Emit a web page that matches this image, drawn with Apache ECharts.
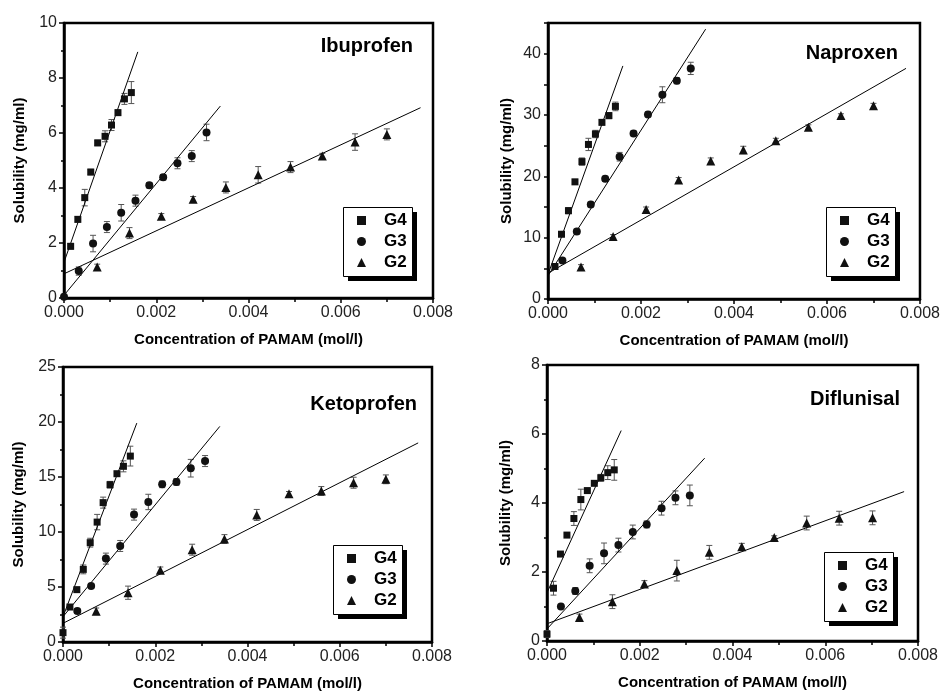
<!DOCTYPE html>
<html><head><meta charset="utf-8">
<script src="https://cdn.jsdelivr.net/npm/echarts@6/dist/echarts.min.js"></script>
<style>html,body{margin:0;padding:0;background:#fff}#c{width:943px;height:692px}</style>
</head><body><div id="c"></div>
<script>
// ---------- DATA ----------
// Ibuprofen
const ibuG4x = [0.000144, 0.0003, 0.00045, 0.00058, 0.00073, 0.00089, 0.00103, 0.00117, 0.00131, 0.00146];
const ibuG4y = [1.88, 2.86, 3.65, 4.58, 5.64, 5.88, 6.29, 6.74, 7.24, 7.47];
const ibuG4e = [0.1, 0.1, 0.3, 0.1, 0.1, 0.2, 0.2, 0.1, 0.2, 0.4];
const ibuG3x = [0, 0.00032, 0.00063, 0.00093, 0.00124, 0.00155, 0.00185, 0.00215, 0.00246, 0.00277, 0.00309];
const ibuG3y = [0.05, 0.98, 1.98, 2.58, 3.10, 3.54, 4.10, 4.39, 4.90, 5.16, 6.02];
const ibuG3e = [0.05, 0.15, 0.3, 0.2, 0.3, 0.2, 0.1, 0.1, 0.2, 0.2, 0.3];
const ibuG2x = [0.00072, 0.00142, 0.00211, 0.0028, 0.00351, 0.00421, 0.00491, 0.0056, 0.00631, 0.007];
const ibuG2y = [1.13, 2.36, 2.97, 3.59, 4.02, 4.48, 4.76, 5.16, 5.67, 5.95];
const ibuG2e = [0.1, 0.2, 0.1, 0.1, 0.2, 0.3, 0.2, 0.1, 0.3, 0.2];
const ibuFitG4 = [[0, 1.3], [0.0016, 8.95]];
const ibuFitG3 = [[0, 0.1], [0.00339, 6.98]];
const ibuFitG2 = [[0, 0.88], [0.00773, 6.92]];

// Naproxen
const napG4x = [0.00015, 0.00029, 0.00044, 0.00058, 0.00073, 0.00087, 0.00102, 0.00116, 0.00131, 0.00145];
const napG4y = [5.3, 10.56, 14.4, 19.1, 22.4, 25.2, 26.9, 28.8, 29.9, 31.4];
const napG4e = [0.4, 0.4, 0.5, 0.4, 0.6, 1.0, 0.6, 0.4, 0.5, 0.7];
const napG3x = [0.00031, 0.00062, 0.00092, 0.00123, 0.00154, 0.00184, 0.00215, 0.00246, 0.00277, 0.00307];
const napG3y = [6.26, 11.0, 15.4, 19.6, 23.2, 27.0, 30.1, 33.3, 35.6, 37.6];
const napG3e = [0.3, 0.4, 0.4, 0.4, 0.7, 0.4, 0.4, 1.3, 0.5, 1.0];
const napG2x = [0.00071, 0.0014, 0.00211, 0.00281, 0.0035, 0.0042, 0.0049, 0.0056, 0.0063, 0.007];
const napG2y = [5.2, 10.2, 14.6, 19.4, 22.5, 24.3, 25.8, 28.0, 29.9, 31.5];
const napG2e = [0.4, 0.3, 0.4, 0.4, 0.5, 0.6, 0.4, 0.4, 0.3, 0.4];
const napFitG4 = [[0, 4.0], [0.00161, 38.0]];
const napFitG3 = [[0, 3.8], [0.00339, 44.0]];
const napFitG2 = [[0, 4.2], [0.0077, 37.6]];

// Ketoprofen
const ketG4x = [0, 0.00015, 0.0003, 0.00044, 0.00059, 0.00074, 0.00087, 0.00102, 0.00117, 0.00131, 0.00146];
const ketG4y = [0.85, 3.18, 4.76, 6.6, 9.03, 10.9, 12.67, 14.3, 15.3, 15.97, 16.9];
const ketG4e = [0.5, 0.2, 0.2, 0.4, 0.4, 0.7, 0.5, 0.3, 0.2, 0.5, 0.9];
const ketG3x = [0.00031, 0.00061, 0.00093, 0.00124, 0.00154, 0.00185, 0.00215, 0.00246, 0.00277, 0.00308];
const ketG3y = [2.82, 5.09, 7.58, 8.73, 11.58, 12.73, 14.33, 14.55, 15.8, 16.45];
const ketG3e = [0.2, 0.2, 0.5, 0.5, 0.5, 0.7, 0.3, 0.3, 0.8, 0.5];
const ketG2x = [0.00072, 0.00141, 0.00211, 0.0028, 0.0035, 0.0042, 0.0049, 0.0056, 0.0063, 0.007];
const ketG2y = [2.79, 4.48, 6.52, 8.39, 9.36, 11.55, 13.48, 13.73, 14.48, 14.79];
const ketG2e = [0.3, 0.6, 0.3, 0.5, 0.4, 0.5, 0.2, 0.4, 0.5, 0.4];
const ketFitG4 = [[0, 2.3], [0.0016, 19.9]];
const ketFitG3 = [[0, 2.3], [0.0034, 19.6]];
const ketFitG2 = [[0, 1.7], [0.0077, 18.1]];

// Diflunisal
const difG4x = [0, 0.00014, 0.00029, 0.00043, 0.00058, 0.00073, 0.00087, 0.00102, 0.00116, 0.00131, 0.00145];
const difG4y = [0.2, 1.53, 2.52, 3.07, 3.55, 4.1, 4.36, 4.57, 4.73, 4.88, 4.96];
const difG4e = [0.1, 0.2, 0.05, 0.05, 0.2, 0.3, 0.05, 0.05, 0.1, 0.2, 0.3];
const difG3x = [0.0003, 0.00061, 0.00092, 0.00123, 0.00154, 0.00185, 0.00215, 0.00247, 0.00277, 0.00308];
const difG3y = [1.0, 1.45, 2.18, 2.54, 2.78, 3.16, 3.38, 3.85, 4.15, 4.22];
const difG3e = [0.05, 0.1, 0.2, 0.3, 0.2, 0.2, 0.1, 0.2, 0.2, 0.3];
const difG2x = [0.0007, 0.00141, 0.0021, 0.0028, 0.0035, 0.0042, 0.0049, 0.0056, 0.0063, 0.00702];
const difG2y = [0.68, 1.14, 1.65, 2.04, 2.57, 2.73, 3.0, 3.42, 3.56, 3.57];
const difG2e = [0.1, 0.2, 0.1, 0.3, 0.2, 0.1, 0.05, 0.2, 0.2, 0.2];
const difFitG4 = [[0, 1.4], [0.0016, 6.1]];
const difFitG3 = [[0, 0.35], [0.0034, 5.3]];
const difFitG2 = [[0, 0.5], [0.0077, 4.33]];

const panelTitles = ['Ibuprofen', 'Naproxen', 'Ketoprofen', 'Diflunisal'];
const groupNames = ['G4', 'G3', 'G2'];
const xMax = 0.008, xStep = 0.002;
const yMaxes = [10, 45, 25, 8];
const ySteps = [2, 10, 5, 2];
const xName = 'Concentration of PAMAM (mol/l)';
const yName = 'Solubility (mg/ml)';

// ---------- build ----------
const zip = (xs, ys, es) => xs.map((x, i) => [x, ys[i], es[i]]);
const panelData = [
  [[zip(ibuG4x, ibuG4y, ibuG4e), ibuFitG4], [zip(ibuG3x, ibuG3y, ibuG3e), ibuFitG3], [zip(ibuG2x, ibuG2y, ibuG2e), ibuFitG2]],
  [[zip(napG4x, napG4y, napG4e), napFitG4], [zip(napG3x, napG3y, napG3e), napFitG3], [zip(napG2x, napG2y, napG2e), napFitG2]],
  [[zip(ketG4x, ketG4y, ketG4e), ketFitG4], [zip(ketG3x, ketG3y, ketG3e), ketFitG3], [zip(ketG2x, ketG2y, ketG2e), ketFitG2]],
  [[zip(difG4x, difG4y, difG4e), difFitG4], [zip(difG3x, difG3y, difG3e), difFitG3], [zip(difG2x, difG2y, difG2e), difFitG2]]
];

const layout = [
  {left: 64, top: 23, w: 369, h: 275, tRight: 530, tTop: 36, legL: 343, legT: 207, yGap: 37},
  {left: 548, top: 23, w: 373, h: 276, tRight: 45, tTop: 43, legL: 826, legT: 207, yGap: 34},
  {left: 63, top: 367, w: 369, h: 275, tRight: 526, tTop: 394, legL: 333, legT: 545, yGap: 37},
  {left: 547, top: 365, w: 371, h: 276, tRight: 43, tTop: 389, legL: 824, legT: 552, yGap: 34}
];
const legW = 69, legH = 69, shadowOff = 5;

const FF = 'Liberation Sans, Arial, sans-serif';
const symbols = ['rect', 'circle', 'triangle'];
const symSizes = [7, 8, 9];

function errItem(params, api) {
  const x = api.value(0), y = api.value(1), e = api.value(2);
  const t = api.coord([x, y + e]), b = api.coord([x, y - e]);
  const hw = 3;
  const st = {stroke: '#555', lineWidth: 1};
  return {type: 'group', children: [
    {type: 'line', shape: {x1: t[0], y1: t[1], x2: b[0], y2: b[1]}, style: st},
    {type: 'line', shape: {x1: t[0] - hw, y1: t[1], x2: t[0] + hw, y2: t[1]}, style: st},
    {type: 'line', shape: {x1: b[0] - hw, y1: b[1], x2: b[0] + hw, y2: b[1]}, style: st}
  ]};
}

const grid = [], xAxis = [], yAxis = [], series = [], title = [], legend = [], graphic = [];
layout.forEach((L, i) => {
  grid.push({left: L.left, top: L.top, width: L.w, height: L.h, show: true,
    borderColor: '#000', borderWidth: 2.5, backgroundColor: 'transparent'});
  xAxis.push({type: 'value', gridIndex: i, min: 0, max: xMax, interval: xStep,
    name: xName, nameLocation: 'middle', nameGap: 34,
    nameTextStyle: {fontFamily: FF, fontSize: 15, fontWeight: 'bold', color: '#000'},
    axisLine: {show: true, onZero: false, lineStyle: {color: '#000', width: 2.5}},
    axisTick: {show: true, inside: false, length: 5, lineStyle: {color: '#000', width: 1.5}},
    minorTick: {show: true, splitNumber: 2, length: 4, lineStyle: {color: '#000', width: 1.5}},
    splitLine: {show: false}, minorSplitLine: {show: false},
    axisLabel: {fontFamily: FF, fontSize: 16, color: '#222', margin: 7,
      formatter: v => v.toFixed(3)}
  });
  const isNap = (i === 1);
  yAxis.push({type: 'value', gridIndex: i, min: 0, max: yMaxes[i],
    interval: isNap ? ySteps[i] / 2 : ySteps[i],
    name: yName, nameLocation: 'middle', nameGap: L.yGap,
    nameTextStyle: {fontFamily: FF, fontSize: 15, fontWeight: 'bold', color: '#000'},
    axisLine: {show: true, onZero: false, lineStyle: {color: '#000', width: 2.5}},
    axisTick: {show: true, inside: false, length: isNap ? 4 : 5, lineStyle: {color: '#000', width: 1.5}},
    minorTick: {show: !isNap, splitNumber: 2, length: 3, lineStyle: {color: '#000', width: 1.5}},
    splitLine: {show: false}, minorSplitLine: {show: false},
    axisLabel: {fontFamily: FF, fontSize: 16, color: '#222', margin: 7, showMaxLabel: true,
      formatter: v => (isNap ? (v % ySteps[i] === 0 ? String(v) : '') : String(v))}
  });
  title.push({text: panelTitles[i], right: L.tRight, top: L.tTop, padding: 0,
    textStyle: {fontFamily: FF, fontSize: 20, fontWeight: 'bold', color: '#000'}});
  // legend frame with hard drop shadow
  graphic.push({type: 'rect', left: L.legL + shadowOff, top: L.legT + shadowOff, z: 5,
    shape: {width: legW, height: legH}, style: {fill: '#000'}, silent: true});
  graphic.push({type: 'rect', left: L.legL, top: L.legT, z: 6,
    shape: {width: legW, height: legH}, style: {fill: '#fff', stroke: '#000', lineWidth: 1}, silent: true});
  legend.push({left: L.legL, top: L.legT, orient: 'vertical', itemGap: 4, z: 10,
    itemWidth: 9, itemHeight: 9, padding: [5, 8, 5, 14],
    backgroundColor: 'transparent', borderWidth: 0,
    selectedMode: false,
    textStyle: {fontFamily: FF, fontSize: 17, fontWeight: 'bold', color: '#000', padding: [0, 0, 0, 13]},
    data: groupNames.map((n, k) => ({name: n, icon: symbols[k]}))
  });
  panelData[i].forEach((g, k) => {
    series.push({type: 'custom', name: 'err' + i + k, xAxisIndex: i, yAxisIndex: i,
      renderItem: errItem, data: g[0], encode: {x: 0, y: 1}, z: 2, silent: true});
    series.push({type: 'line', name: 'fit' + i + k, xAxisIndex: i, yAxisIndex: i,
      data: g[1], showSymbol: false, symbol: 'none', z: 3, silent: true,
      lineStyle: {color: '#000', width: 1}});
    series.push({type: 'scatter', name: groupNames[k], xAxisIndex: i, yAxisIndex: i,
      data: g[0].map(p => [p[0], p[1]]), symbol: symbols[k], symbolSize: symSizes[k], z: 4,
      itemStyle: {color: '#111', opacity: 1}});
  });
});

const chart = echarts.init(document.getElementById('c'), null, {renderer: 'canvas'});
chart.setOption({animation: false, backgroundColor: '#fff', title, legend, grid, xAxis, yAxis, series, graphic});
</script>
</body></html>
